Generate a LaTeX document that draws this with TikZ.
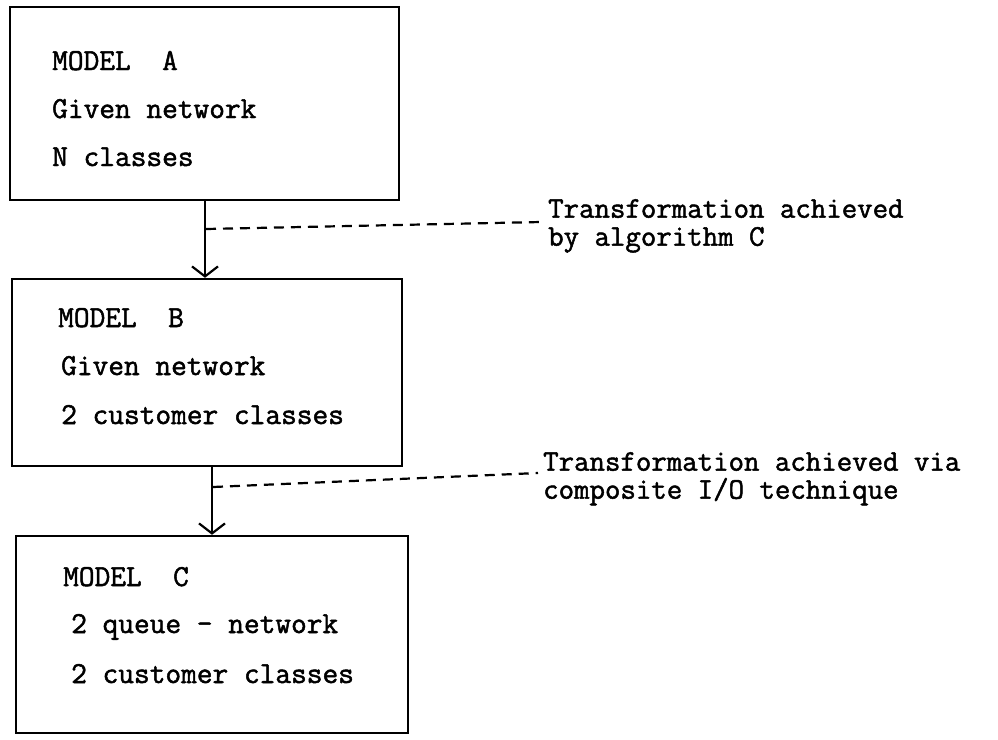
\documentclass[tikz,border=0pt]{standalone}
\usepackage{fontspec}
\setmonofont[FakeBold=1.6]{Latin Modern Mono}
\usetikzlibrary{arrows.meta}
\begin{document}
\begin{tikzpicture}[x=1pt,y=-1pt,
  box/.style={draw, line width=2.4pt, inner sep=0pt},
  txt/.style={inner sep=0pt, anchor=base west, font=\ttfamily\fontsize{30.5}{30.5}\selectfont},
  rtxt/.style={inner sep=0pt, anchor=north west, align=left, font=\ttfamily\fontsize{30}{28}\selectfont},
  arr/.style={line width=2.2pt, -{Straight Barb[length=10pt,width=26pt,line width=2.2pt]}},
  dsh/.style={line width=2.2pt, dash pattern=on 10pt off 7pt}]
\useasboundingbox (0,0) rectangle (998,739);
% boxes
\node[box, minimum width=389pt, minimum height=193pt] (A) at (204.5,103.5) {};
\node[box, minimum width=390pt, minimum height=187pt] (B) at (207,372.5) {};
\node[box, minimum width=392pt, minimum height=197pt] (C) at (212,634.5) {};
% box texts
\node[txt] (a1) at (52,70) {MODEL~~A};
\node[txt] (a2) at (52,118) {Given network};
\node[txt] (a3) at (52,166) {N classes};
\node[txt] (b1) at (58,327) {MODEL~~B};
\node[txt] (b2) at (61,375) {Given network};
\node[txt] (b3) at (61,424) {2 customer classes};
\node[txt] (c1) at (63,586) {MODEL~~C};
\node[txt] (c2) at (71,633) {2 queue - network};
\node[txt] (c3) at (71,683) {2 customer classes};
% right texts
\node[rtxt] (t1) at (548,199) {Transformation achieved\\by algorithm C};
\node[rtxt] (u1) at (543,452) {Transformation achieved via\\composite I/O technique};
% arrows
\coordinate (x1) at (205,0);
\coordinate (x2) at (212,0);
\draw[arr] (A.south -| x1) -- (B.north -| x1);
\draw[arr] (B.south -| x2) -- (C.north -| x2);
% dashed leaders
\coordinate (d1) at (206,229);
\coordinate (d2) at (213,487);
\coordinate (e1) at (541,222);
\coordinate (e2) at (538,473);
\draw[dsh] (d1) -- (e1);
\draw[dsh] (d2) -- (e2);
\end{tikzpicture}
\end{document}
